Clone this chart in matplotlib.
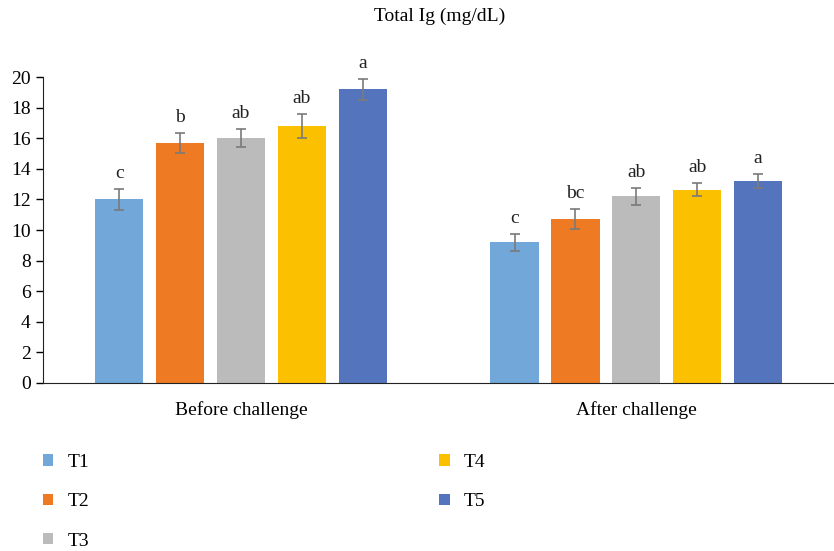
import numpy as np
import matplotlib.pyplot as plt

plt.rcParams['font.family'] = ['Liberation Serif', 'DejaVu Serif']

# data
periods = ['Before challenge', 'After challenge']
treatments = ['T1', 'T2', 'T3', 'T4', 'T5']
means = {
    'T1': [12.0, 9.2],
    'T2': [15.7, 10.7],
    'T3': [16.0, 12.2],
    'T4': [16.8, 12.65],
    'T5': [19.2, 13.2],
}
errors = {
    'T1': [0.7, 0.55],
    'T2': [0.65, 0.65],
    'T3': [0.6, 0.55],
    'T4': [0.8, 0.45],
    'T5': [0.7, 0.45],
}
letters = {
    'T1': ['c', 'c'],
    'T2': ['b', 'bc'],
    'T3': ['ab', 'ab'],
    'T4': ['ab', 'ab'],
    'T5': ['a', 'a'],
}
colors = ['#72a7d9', '#ee7b24', '#bbbbbb', '#fbc100', '#5475bd']

fig = plt.figure(figsize=(8.34, 5.51), dpi=100)
ax = fig.add_axes([0.052, 0.305, 0.948, 0.555])

x = np.arange(len(periods))
width = 0.122
step = 0.154

for i, t in enumerate(treatments):
    pos = x + (i - 2) * step
    ax.bar(pos, means[t], width, color=colors[i], label=t,
           yerr=errors[t], capsize=3.5,
           error_kw=dict(ecolor='#7a7a7a', elinewidth=1.2, capthick=1.2))
    for p, m, e, lab in zip(pos, means[t], errors[t], letters[t]):
        ax.annotate(lab, (p, m + e), xytext=(0, 5), textcoords='offset points',
                    ha='center', va='bottom', fontsize=14, color='#222222')

ax.set_xlim(-0.5, 1.5)
ax.set_ylim(0, 20)
ax.set_yticks(np.arange(0, 21, 2))
ax.set_xticks(x)
ax.set_xticklabels(periods)
ax.tick_params(axis='x', length=0, pad=13, labelsize=14)
ax.tick_params(axis='y', direction='out', length=5, width=1, labelsize=14, pad=4)
for s in ['top', 'right']:
    ax.spines[s].set_visible(False)
ax.spines['left'].set_color('#222222')
ax.spines['bottom'].set_color('#222222')

fig.text(0.527, 1 - 16 / 551, 'Total Ig (mg/dL)', ha='center', va='center', fontsize=14)

fig.legend(loc='upper left', bbox_to_anchor=(43 / 834, 1 - 454 / 551), ncol=2,
           frameon=False, fontsize=14, handlelength=0.52, handleheight=0.52,
           handletextpad=0.75, labelspacing=1.15, columnspacing=18.0, borderpad=0,
           borderaxespad=0)

fig.savefig('out.png', dpi=100)
